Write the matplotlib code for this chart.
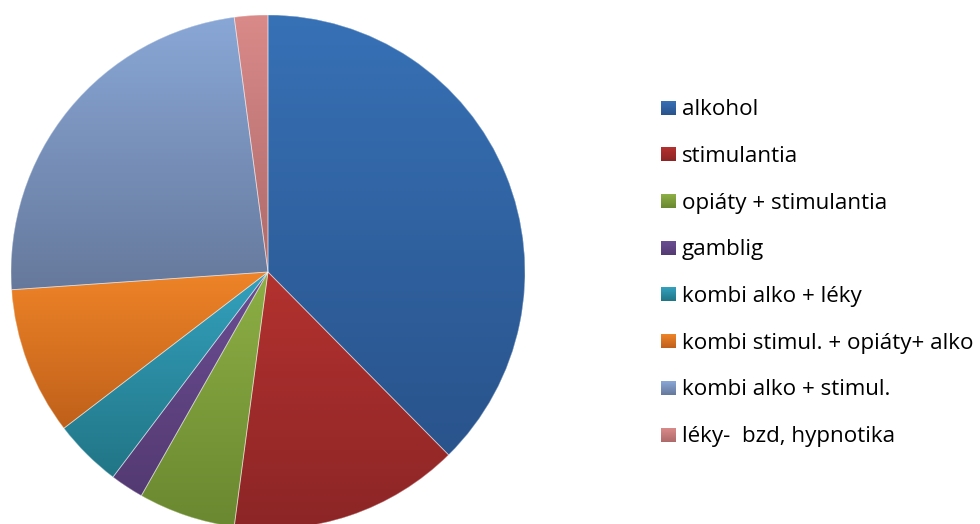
import numpy as np
import matplotlib
matplotlib.use("Agg")
import matplotlib.pyplot as plt
from matplotlib.colors import to_rgb

categories = ["alkohol", "stimulantia", "opiáty + stimulantia", "gamblig",
              "kombi alko + léky", "kombi stimul. + opiáty+ alko",
              "kombi alko + stimul.", "léky-  bzd, hypnotika"]
values = [37.6, 14.5, 6.1, 2.1, 4.3, 9.3, 24.0, 2.1]
top_colors = ["#3771B6", "#B3322F", "#8DAF45", "#6A4D93", "#34A1BE", "#EF8428", "#89A7D6", "#D98A89"]
bottom_colors = ["#29538B", "#8C2526", "#6A8830", "#543A72", "#217585", "#BF601A", "#66799C", "#AE6A6A"]

W, H = 980, 524
fig = plt.figure(figsize=(W / 100, H / 100), dpi=100)
ax = fig.add_axes([0, 0, 1, 1])
ax.set_axis_off()

cx, cy, r = 268, H - 272, 257
wedges, _ = ax.pie(values, center=(cx, cy), radius=r, startangle=90, counterclock=False,
                   colors=top_colors, wedgeprops=dict(edgecolor="none", linewidth=0))


def grad_img(c1, c2, n=256):
    a = np.array(to_rgb(c1))
    b = np.array(to_rgb(c2))
    t = np.linspace(0, 1, n).reshape(-1, 1, 1)
    return a * (1 - t) + b * t


for w, c1, c2 in zip(wedges, top_colors, bottom_colors):
    ext = w.get_path().get_extents()
    im = ax.imshow(grad_img(c1, c2), extent=[ext.x0, ext.x1, ext.y0, ext.y1],
                   origin="upper", aspect="auto", zorder=2, interpolation="bilinear")
    im.set_clip_path(w)

# faint separator lines
ax.pie(values, center=(cx, cy), radius=r, startangle=90, counterclock=False,
       colors=["none"] * len(values),
       wedgeprops=dict(edgecolor=(1, 1, 1, 0.45), linewidth=0.6, zorder=3))

# legend
lx0, lx1 = 661, 676
row0_top, pitch, sq = 100.7, 46.7, 14
for i, (lab, c1, c2) in enumerate(zip(categories, top_colors, bottom_colors)):
    top = row0_top + i * pitch
    y1 = H - top
    y0 = y1 - sq
    ax.imshow(grad_img(c1, c2, 32), extent=[lx0, lx1, y0, y1], origin="upper",
              aspect="auto", zorder=2)
    ax.text(682, y0 - 0.5, lab, fontsize=16.1, family=["Open Sans", "DejaVu Sans"],
            color="#000000", va="baseline", ha="left")

ax.set_xlim(0, W)
ax.set_ylim(0, H)
ax.set_aspect("auto")
fig.savefig("out.png", dpi=100, facecolor="white")
